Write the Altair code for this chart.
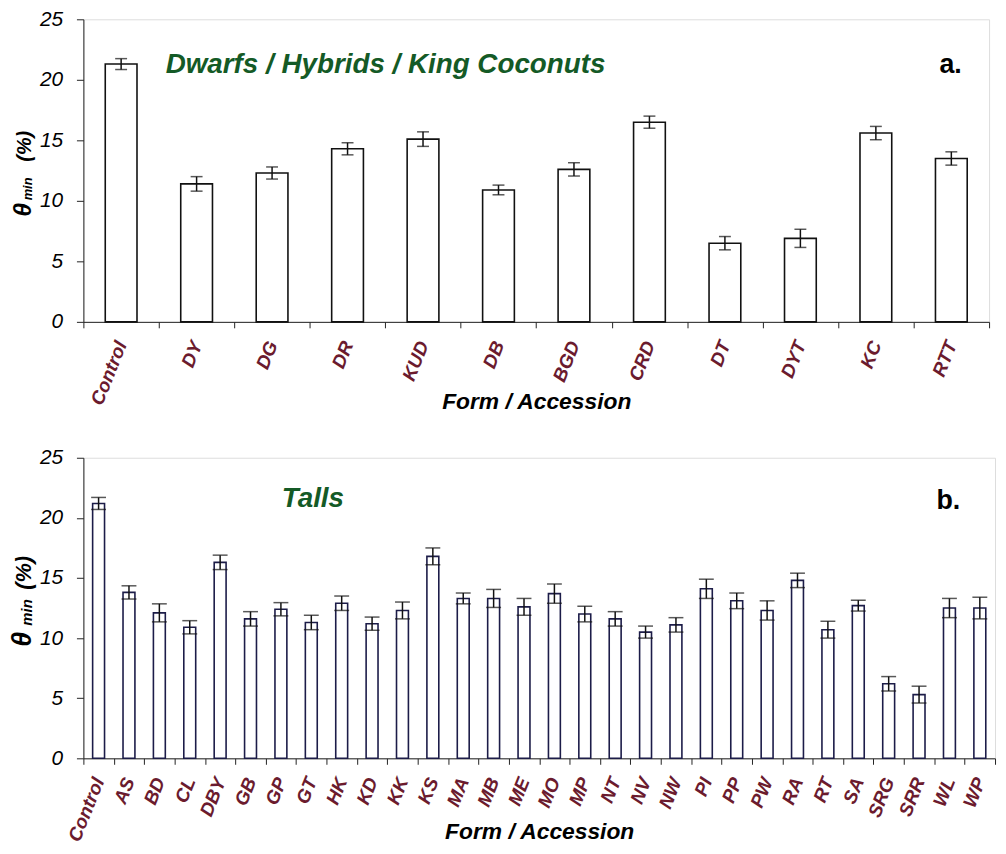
import altair as alt
import pandas as pd

# ---- data: panel a (Dwarfs / Hybrids / King Coconuts) ----
cats_a = ["Control", "DY", "DG", "DR", "KUD", "DB", "BGD", "CRD", "DT", "DYT", "KC", "RTT"]
vals_a = [21.3, 11.4, 12.3, 14.3, 15.1, 10.9, 12.6, 16.5, 6.5, 6.9, 15.6, 13.5]
errs_a = [0.45, 0.6, 0.5, 0.5, 0.6, 0.4, 0.55, 0.5, 0.55, 0.75, 0.55, 0.55]

# ---- data: panel b (Talls) ----
cats_b = ["Control", "AS", "BD", "CL", "DBY", "GB", "GP", "GT", "HK", "KD", "KK", "KS",
          "MA", "MB", "ME", "MO", "MP", "NT", "NV", "NW", "PI", "PP", "PW", "RA", "RT",
          "SA", "SRG", "SRR", "WL", "WP"]
vals_b = [21.2, 13.8, 12.1, 10.9, 16.3, 11.6, 12.4, 11.3, 12.9, 11.2, 12.3, 16.8,
          13.3, 13.3, 12.6, 13.7, 12.0, 11.6, 10.5, 11.1, 14.1, 13.1, 12.3, 14.8, 10.7,
          12.7, 6.2, 5.3, 12.5, 12.5]
errs_b = [0.5, 0.55, 0.75, 0.55, 0.6, 0.6, 0.55, 0.6, 0.6, 0.55, 0.7, 0.7,
          0.45, 0.75, 0.7, 0.8, 0.65, 0.6, 0.5, 0.6, 0.8, 0.65, 0.8, 0.6, 0.7,
          0.45, 0.6, 0.7, 0.8, 0.9]

y_ticks = [0, 5, 10, 15, 20, 25]

FONT = "Liberation Sans"
LABEL_COLOR = "#6b1b2e"
GREEN = "#145a26"


def txt(s, size, x, y, color="black", angle=0, align="center", style="italic"):
    return alt.Chart(pd.DataFrame({"t": [s]})).mark_text(
        font=FONT, fontSize=size, fontWeight="bold", fontStyle=style, color=color,
        align=align, baseline="middle", angle=angle).encode(
        text="t:N", x=alt.value(x), y=alt.value(y))


def panel(cats, vals, errs, width, height, bar_w, cap_w, bar_stroke, note, note_x, note_y,
          letter, letter_x, letter_y, title_y, ytitle):
    df = pd.DataFrame({"cat": cats, "val": vals, "err": errs})
    df["lo"] = df["val"] - df["err"]
    df["hi"] = df["val"] + df["err"]

    x = alt.X("cat:N", sort=cats,
              scale=alt.Scale(paddingInner=0, paddingOuter=0),
              axis=alt.Axis(title="Form / Accession", tickBand="extent",
                            labelAngle=292, labelAlign="right", labelBaseline="middle",
                            labelFont=FONT, labelFontSize=19, labelFontWeight="bold",
                            labelFontStyle="italic", labelColor=LABEL_COLOR,
                            labelPadding=14, tickSize=6, tickColor="#222",
                            domainColor="#222", titleFont=FONT, titleFontSize=23,
                            titleFontWeight="bold", titleFontStyle="italic",
                            titleColor="black", titleY=title_y, titleBaseline="middle"))
    xs = alt.X("cat:N", sort=cats)
    y = alt.Y("val:Q", scale=alt.Scale(domain=[0, 25], nice=False),
              axis=alt.Axis(title=None, values=y_ticks, grid=False,
                            labelFont=FONT, labelFontSize=21, labelFontStyle="italic",
                            labelColor="black", labelPadding=14, tickSize=7,
                            tickColor="#222", domainColor="#222"))

    base = alt.Chart(df)
    bars = base.mark_bar(size=bar_w, fill="white", stroke=bar_stroke,
                         strokeWidth=1.6).encode(x=x, y=y)
    rule = base.mark_rule(color="#111", strokeWidth=1.5).encode(
        x=xs, y="lo:Q", y2="hi:Q")
    cap_hi = base.mark_tick(color="#111", thickness=1.5, size=cap_w).encode(
        x=xs, y="hi:Q")
    cap_lo = base.mark_tick(color="#111", thickness=1.5, size=cap_w).encode(
        x=xs, y="lo:Q")

    (pct_size, pct_x, pct_y), (min_size, min_x, min_y), (th_size, th_x, th_y) = ytitle
    layers = [
        bars, rule, cap_hi, cap_lo,
        txt(note, 28, note_x, note_y, color=GREEN, align="left"),
        txt(letter, 27, letter_x, letter_y, align="left", style="normal"),
        txt("(%)", pct_size, pct_x, pct_y, angle=270),
        txt("min", min_size, min_x, min_y, angle=270),
        txt("θ", th_size, th_x, th_y, angle=270),
    ]
    return alt.layer(*layers).properties(width=width, height=height)


top = panel(cats_a, vals_a, errs_a, 913, 305, 32, 12, "#111",
            "Dwarfs / Hybrids / King Coconuts", 83, 46, "a.", 863, 46, 80,
            ((20, -59, 128), (13, -56, 171), (25, -61, 192)))
bottom = panel(cats_b, vals_b, errs_b, 919, 303, 12, 15, "#1c1c48",
               "Talls", 200, 42, "b.", 860, 44, 74,
               ((22, -60, 116), (15, -57, 156), (27, -61, 183)))

chart = alt.vconcat(top, bottom, spacing=32).properties(
    padding={"left": 0, "top": -4, "right": 2, "bottom": 0}
).configure_view(stroke="#333", strokeWidth=1.2).configure(background="white")

chart.save("out.html", embed_options={"renderer": "svg", "actions": False})
